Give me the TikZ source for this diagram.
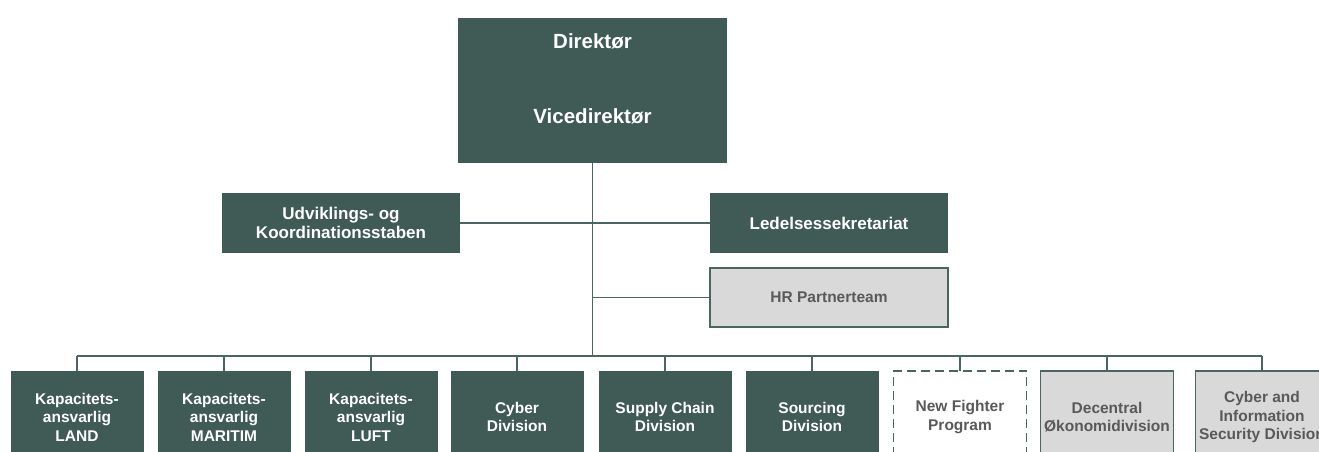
\documentclass[tikz,border=0pt]{standalone}
\usepackage{fontspec}
\setmainfont{Liberation Sans}
\definecolor{dkgreen}{RGB}{64,91,86}
\definecolor{lnclr}{RGB}{74,102,98}
\definecolor{lgray}{RGB}{217,217,217}
\definecolor{txtgray}{RGB}{89,89,89}
\begin{document}
\begin{tikzpicture}[x=1pt,y=-1pt,
  every node/.style={inner sep=0pt,outer sep=0pt},
  boxtext/.style={font=\fontsize{15.5}{18.5}\selectfont\bfseries,align=center},
  stafftext/.style={font=\fontsize{17}{19.5}\selectfont\bfseries},
  toptext/.style={font=\fontsize{20.5}{24}\selectfont\bfseries,text=white},
  darkbox/.style={rectangle,fill=dkgreen,text=white,boxtext},
  graybox/.style={rectangle,fill=lgray,draw=lnclr,line width=1.3pt,text=txtgray,boxtext},
  dashbox/.style={rectangle,fill=white,draw=lnclr,line width=1.3pt,dash pattern=on 9pt off 5pt,text=txtgray,boxtext},
  bottombox/.style={minimum width=133pt,minimum height=92pt},
  conn/.style={draw=lnclr,line width=1.3pt}]
\useasboundingbox (0,0) rectangle (1319,452);
% top
\node[darkbox,minimum width=269pt,minimum height=145pt] (top) at (592.5,90.5) {};
\node[toptext] (dir) at (592.5,41) {Direktør};
\node[toptext] (vdir) at (592.5,116) {Vicedirektør};
% staff
\node[darkbox,stafftext,minimum width=238pt,minimum height=60pt] (udv) at (341,223) {Udviklings- og\\Koordinationsstaben};
\node[darkbox,stafftext,minimum width=238pt,minimum height=60pt] (led) at (829,223) {Ledelsessekretariat};
\node[graybox,minimum width=238pt,minimum height=59pt] (hr) at (829,297.5) {HR Partnerteam};
% bus
\coordinate (bus) at (592.5,356);
% bottom
\node[darkbox,bottombox] (b1) at (77,417) {Kapacitets-\\ansvarlig\\LAND};
\node[darkbox,bottombox] (b2) at (224,417) {Kapacitets-\\ansvarlig\\MARITIM};
\node[darkbox,bottombox] (b3) at (371,417) {Kapacitets-\\ansvarlig\\LUFT};
\node[darkbox,bottombox] (b4) at (517,417) {Cyber\\Division};
\node[darkbox,bottombox] (b5) at (665,417) {Supply Chain\\Division};
\node[darkbox,bottombox] (b6) at (812,417) {Sourcing\\Division};
\node[dashbox,bottombox] (b7) at (960,417) {New Fighter\\Program};
\node[graybox,bottombox] (b8) at (1107,417) {Decentral\\Økonomidivision};
\node[graybox,bottombox] (b9) at (1262,417) {Cyber and\\Information\\Security Division};
% connectors
\draw[conn] (top.south) -- (bus);
\draw[conn] (udv.east) -- (led.west);
\draw[conn] (top.south |- hr.west) -- (hr.west);
\draw[conn] (b1.north |- bus) -- (b9.north |- bus);
\foreach \n in {b1,b2,b3,b4,b5,b6,b7,b8,b9}{
  \draw[conn] (\n.north) -- (\n.north |- bus);
}
\end{tikzpicture}
\end{document}
